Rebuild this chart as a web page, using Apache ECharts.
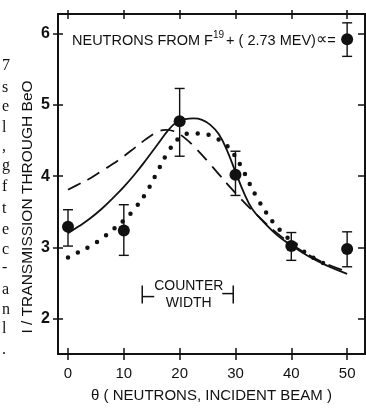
<!DOCTYPE html>
<html>
<head>
<meta charset="utf-8">
<script src="https://cdn.jsdelivr.net/npm/echarts@6/dist/echarts.min.js"></script>
<style>
  html, body { margin: 0; padding: 0; background: #fff; }
  #chart { width: 366px; height: 408px; }
</style>
</head>
<body>
<div id="chart"></div>
<script>
// measured points (theta in degrees, 1/transmission)
const pointTheta = [0, 10, 20, 30, 40, 50];
const pointValue = [3.29, 3.24, 4.77, 4.02, 3.02, 2.98];
const pointLow = [3.02, 2.89, 4.28, 3.73, 2.82, 2.73];
const pointHigh = [3.53, 3.60, 5.23, 4.35, 3.21, 3.22];

// the sample dot shown next to the caption
const keyPoint = [50, 5.92, 5.68, 6.15];

// calculated curves
const dashedTheta = [0, 2, 4, 6, 8, 10, 12, 14, 16, 17.5, 19, 21, 23, 25, 27, 29, 31, 33, 35, 37, 40, 43, 46, 50];
const dashedValue = [3.81, 3.89, 3.97, 4.07, 4.17, 4.28, 4.40, 4.52, 4.62, 4.65, 4.63, 4.53, 4.38, 4.21, 4.03, 3.85, 3.68, 3.52, 3.37, 3.23, 3.05, 2.90, 2.78, 2.66];

const solidTheta = [0, 2, 4, 6, 8, 10, 12, 14, 16, 18, 19.5, 21, 22.5, 24, 25.5, 27, 28.5, 30, 31.5, 33, 35, 37.5, 40, 43, 46, 50];
const solidValue = [3.20, 3.30, 3.41, 3.54, 3.69, 3.85, 4.03, 4.23, 4.44, 4.65, 4.76, 4.80, 4.81, 4.79, 4.72, 4.59, 4.36, 4.06, 3.77, 3.54, 3.36, 3.17, 3.03, 2.88, 2.76, 2.63];

const dottedTheta = [0, 2, 4, 6, 8, 10, 12, 14, 16, 18, 20, 22, 24, 26, 28, 29.5, 31, 32.5, 34, 35.5, 37, 39, 41, 43, 46];
const dottedValue = [2.86, 2.94, 3.02, 3.12, 3.25, 3.38, 3.55, 3.77, 4.06, 4.35, 4.54, 4.60, 4.60, 4.55, 4.46, 4.33, 4.14, 3.90, 3.68, 3.49, 3.33, 3.16, 3.03, 2.90, 2.77];

// counter width bracket: [from theta, to theta, at value]
const counterWidth = [13.3, 29.6, 2.34];

const xTicks = [0, 10, 20, 30, 40, 50];
const yTicks = [2, 3, 4, 5, 6];

// cut-off letters of the neighbouring text column
const marginLetters = ['7', 's', 'e', 'l', ',', 'g', 'f', 't', 'e', 'c', '-', 'a', 'n', 'l', '.'];
const marginY = [68, 90, 109, 130, 149, 168, 189, 211, 232, 252, 270, 292, 312, 331, 352];

const X_MIN = -1.79, X_MAX = 53.2;
const Y_MIN = 1.507, Y_MAX = 6.274;
const INK = '#111';
const FONT = 'Liberation Sans';

const zip = (xs, ys) => xs.map((x, i) => [x, ys[i]]);

const xBase = {
  type: 'value', min: X_MIN, max: X_MAX, splitLine: { show: false },
  axisLine: { show: true, onZero: false, lineStyle: { color: INK, width: 2 } },
};
const yBase = {
  type: 'value', min: Y_MIN, max: Y_MAX, splitLine: { show: false },
  axisLine: { show: true, onZero: false, lineStyle: { color: INK, width: 2 } },
};
const tick = (inside, len) => ({
  show: true, inside, length: len, lineStyle: { color: INK, width: 1.5 },
});

const xAxes = [
  {
    ...xBase, position: 'bottom',
    axisTick: { ...tick(false, 6), customValues: xTicks },
    axisLabel: { customValues: xTicks, color: INK, fontFamily: FONT, fontSize: 15, margin: 12 },
    name: 'θ ( NEUTRONS, INCIDENT BEAM )', nameLocation: 'middle', nameGap: 34,
    nameTextStyle: { color: INK, fontFamily: FONT, fontSize: 15 },
  },
  { ...xBase, position: 'bottom', axisTick: { ...tick(true, 6), customValues: xTicks }, axisLabel: { show: false } },
  { ...xBase, position: 'top', axisTick: { ...tick(false, 4), customValues: xTicks }, axisLabel: { show: false } },
  { ...xBase, position: 'top', axisTick: { ...tick(true, 5), customValues: xTicks }, axisLabel: { show: false } },
];
const yAxes = [
  {
    ...yBase, position: 'left',
    axisTick: { ...tick(false, 5), customValues: yTicks },
    axisLabel: { customValues: yTicks, color: INK, fontFamily: FONT, fontSize: 16, fontWeight: 'bold', margin: 8 },
  },
  { ...yBase, position: 'left', axisTick: { ...tick(true, 5), customValues: yTicks }, axisLabel: { show: false } },
  { ...yBase, position: 'right', axisTick: { ...tick(true, 7), customValues: yTicks }, axisLabel: { show: false } },
];

const errorBars = (params, api) => {
  const x = api.value(0);
  const lo = api.coord([x, api.value(1)]);
  const hi = api.coord([x, api.value(2)]);
  const cap = 5;
  const style = { stroke: INK, lineWidth: 1.4 };
  return {
    type: 'group',
    children: [
      { type: 'line', shape: { x1: lo[0], y1: lo[1], x2: hi[0], y2: hi[1] }, style },
      { type: 'line', shape: { x1: lo[0] - cap, y1: lo[1], x2: lo[0] + cap, y2: lo[1] }, style },
      { type: 'line', shape: { x1: hi[0] - cap, y1: hi[1], x2: hi[0] + cap, y2: hi[1] }, style },
    ],
  };
};

const bracket = (params, api) => {
  const a = api.coord([api.value(0), api.value(2)]);
  const b = api.coord([api.value(1), api.value(2)]);
  const h = 9;
  const style = { stroke: INK, lineWidth: 1.5 };
  const mid = (a[0] + b[0]) / 2 + 1;
  const txt = { fill: INK, font: '14px ' + FONT, textAlign: 'center', textVerticalAlign: 'middle' };
  return {
    type: 'group',
    children: [
      { type: 'line', shape: { x1: a[0], y1: a[1] - h, x2: a[0], y2: a[1] + h }, style },
      { type: 'line', shape: { x1: a[0], y1: a[1] + 2, x2: a[0] + 12, y2: a[1] + 2 }, style },
      { type: 'line', shape: { x1: b[0], y1: b[1] - h, x2: b[0], y2: b[1] + h }, style },
      { type: 'line', shape: { x1: b[0] - 11, y1: b[1] - 1, x2: b[0], y2: b[1] - 1 }, style },
      { type: 'text', style: { ...txt, text: 'COUNTER', x: mid, y: a[1] - 8 } },
      { type: 'text', style: { ...txt, text: 'WIDTH', x: mid, y: a[1] + 9 } },
    ],
  };
};

const chart = echarts.init(document.getElementById('chart'), null, { renderer: 'canvas' });

chart.setOption({
  animation: false,
  backgroundColor: '#fff',
  grid: { left: 58, right: 1, top: 14, bottom: 46, containLabel: false },
  xAxis: xAxes,
  yAxis: yAxes,
  graphic: [
    {
      type: 'text', left: 72, top: 30,
      style: {
        text: '{t|NEUTRONS FROM F}{s|19}{t|+ ( 2.73 MEV)}{a|∝}{t|=}',
        rich: {
          t: { fontFamily: FONT, fontSize: 14.5, fill: INK, verticalAlign: 'bottom' },
          s: { fontFamily: FONT, fontSize: 10, fill: INK, verticalAlign: 'top', padding: [0, 2, 8, 0] },
          a: { fontFamily: 'DejaVu Sans', fontSize: 16, fill: INK, verticalAlign: 'bottom' },
        },
      },
    },
    {
      type: 'text', x: 28, y: 207, rotation: Math.PI / 2,
      style: {
        text: 'I / TRANSMISSION THROUGH BeO', fontFamily: FONT, fontSize: 15.5, fill: INK,
        align: 'center', verticalAlign: 'middle',
      },
    },
    ...marginLetters.map((ch, i) => ({
      type: 'text', left: 2, top: marginY[i] - 10,
      style: { text: ch, fontFamily: 'Liberation Serif', fontSize: 16, fill: INK },
    })),
  ],
  series: [
    {
      name: 'dashed', type: 'line', data: zip(dashedTheta, dashedValue),
      showSymbol: false, smooth: 0.4,
      lineStyle: { color: INK, width: 1.8, type: [14, 8] },
    },
    {
      name: 'solid', type: 'line', data: zip(solidTheta, solidValue),
      showSymbol: false, smooth: 0.4,
      lineStyle: { color: INK, width: 1.8 },
    },
    {
      name: 'dotted', type: 'line', data: zip(dottedTheta, dottedValue),
      showSymbol: false, smooth: 0.4,
      lineStyle: { color: INK, width: 4.5, type: [0, 11], cap: 'round' },
    },
    {
      name: 'errors', type: 'custom', renderItem: errorBars,
      data: pointTheta.map((t, i) => [t, pointLow[i], pointHigh[i]]).concat([[keyPoint[0], keyPoint[2], keyPoint[3]]]),
      z: 3,
    },
    {
      name: 'points', type: 'scatter', symbolSize: 12,
      data: zip(pointTheta, pointValue).concat([[keyPoint[0], keyPoint[1]]]),
      itemStyle: { color: INK, opacity: 1 }, z: 4,
    },
    {
      name: 'counter', type: 'custom', renderItem: bracket, data: [counterWidth],
    },
  ],
});
</script>
</body>
</html>
